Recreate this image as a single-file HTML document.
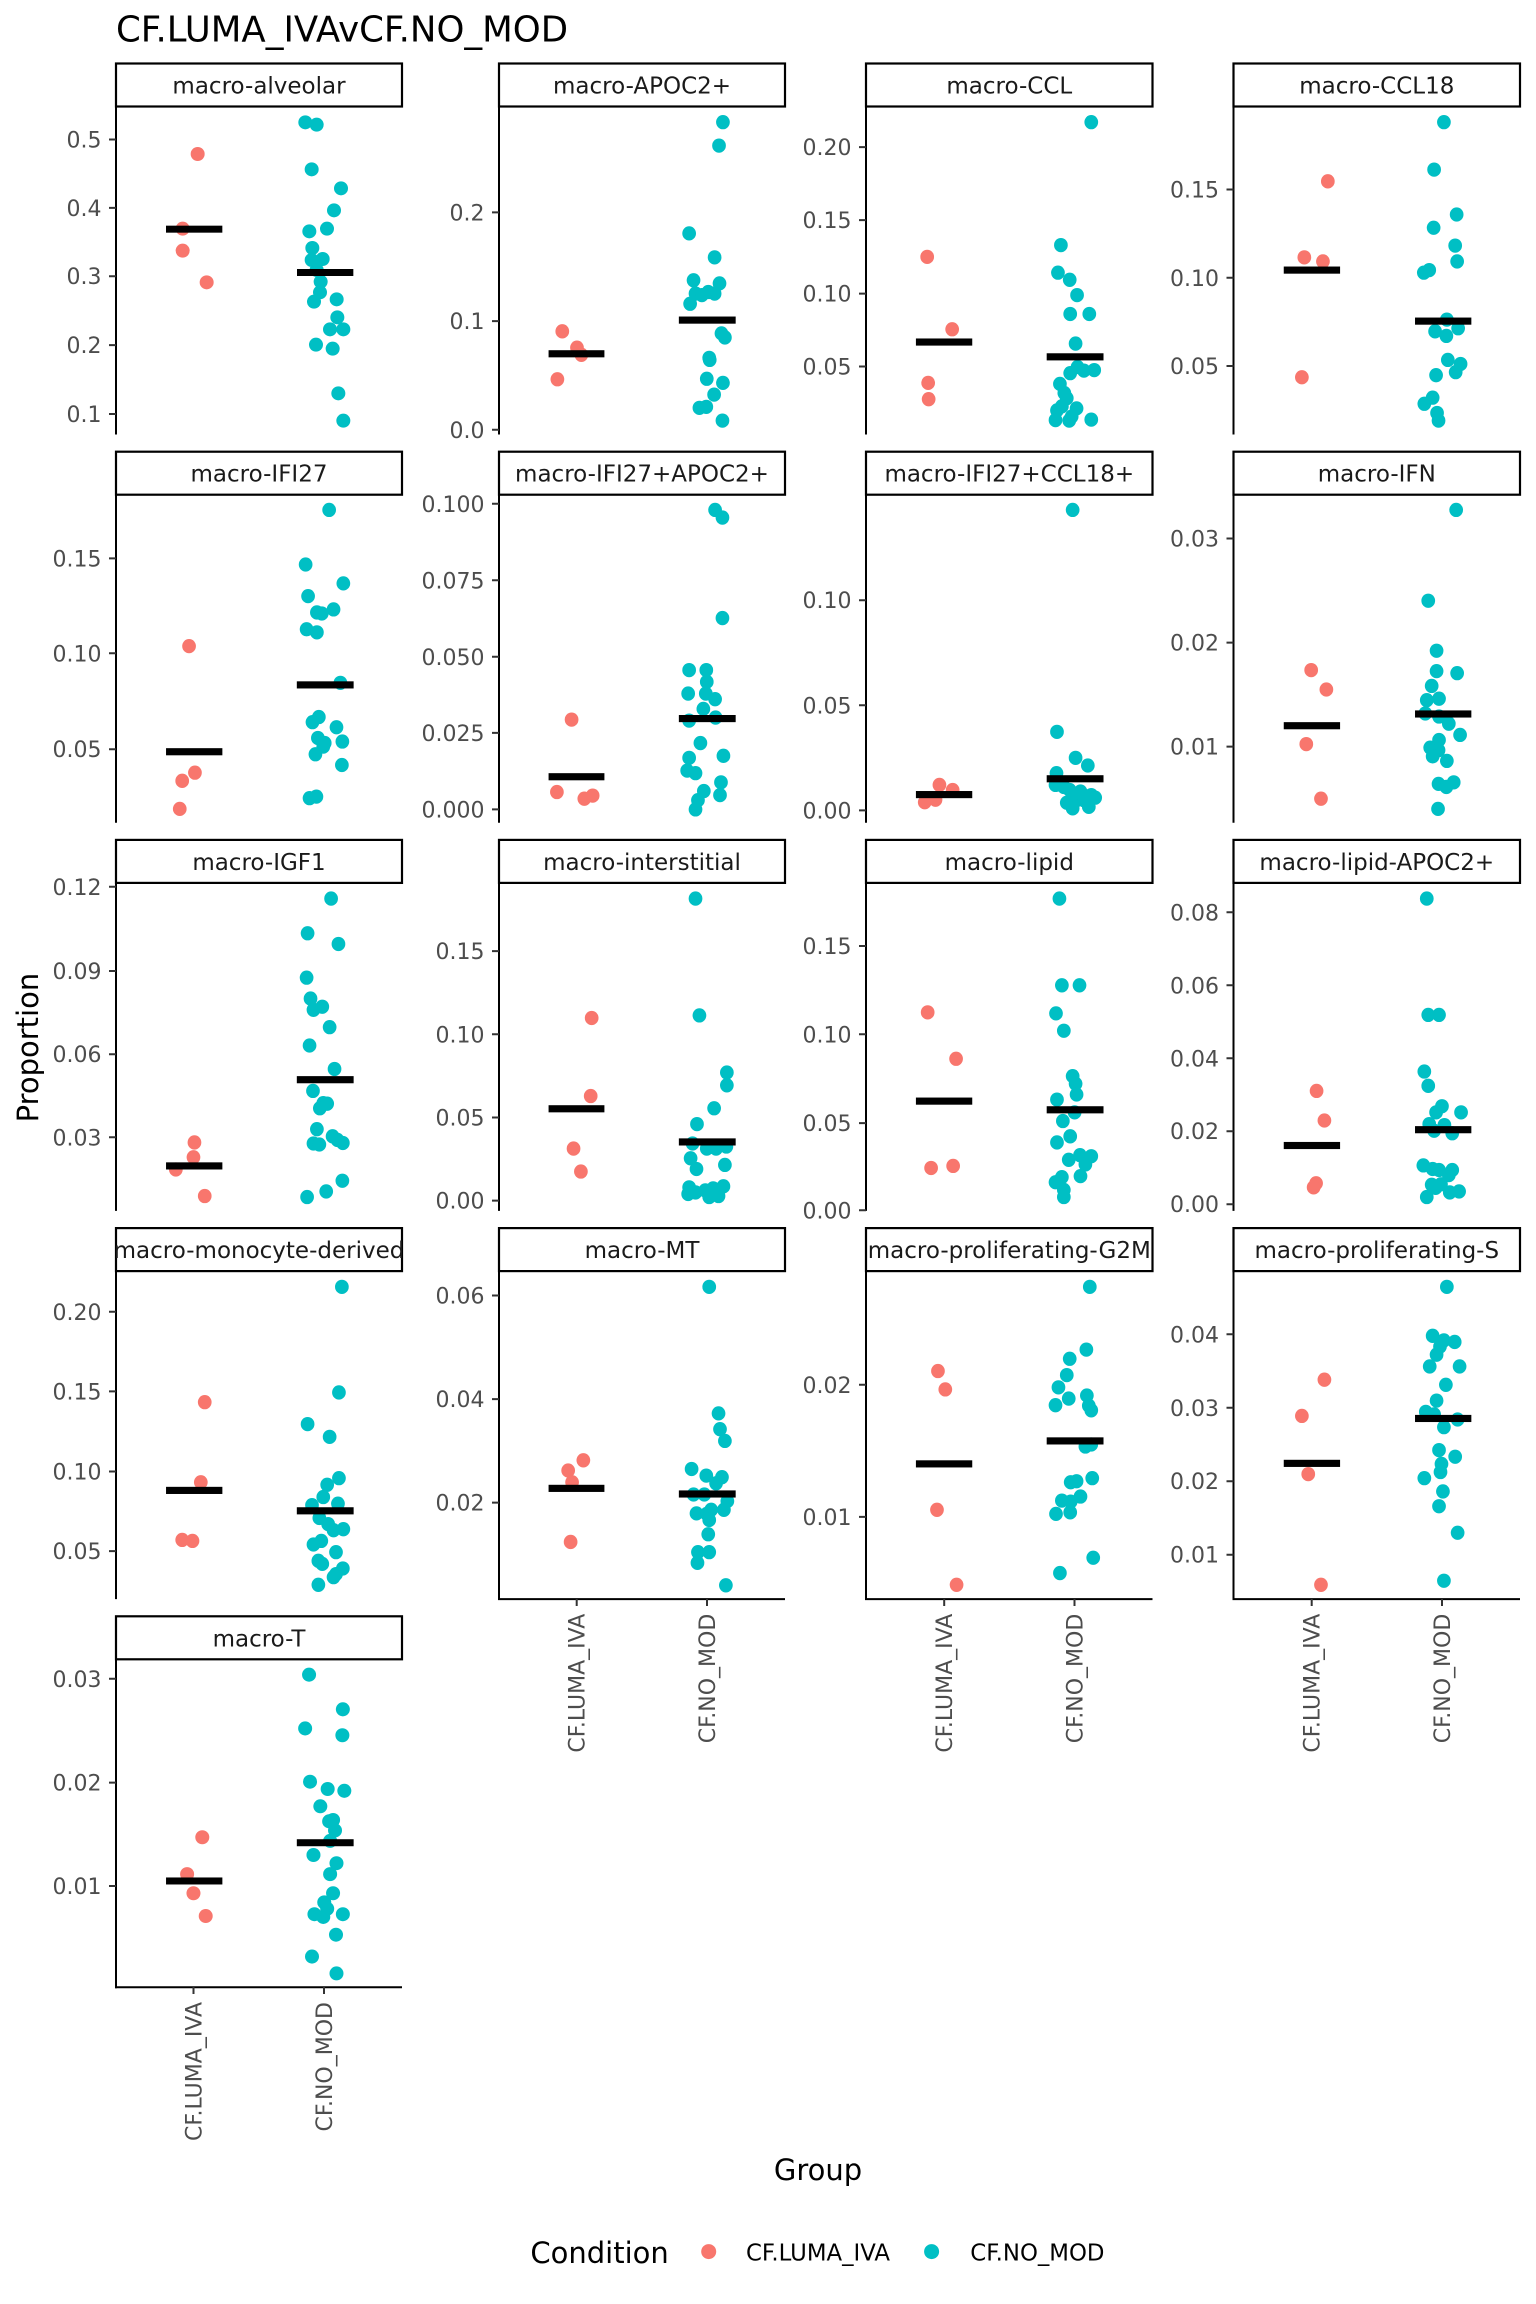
<!DOCTYPE html>
<html><head><meta charset="utf-8"><style>
html,body{margin:0;padding:0;background:#fff;}
svg{display:block;}
text{font-family:"DejaVu Sans","Liberation Sans",sans-serif;}
.tk{font-size:22px;fill:#4D4D4D;text-anchor:end;}
.st{font-size:23px;fill:#1A1A1A;text-anchor:middle;}
.xl{font-size:22px;fill:#4D4D4D;text-anchor:end;}
</style></head><body>
<svg width="1536" height="2304" viewBox="0 0 1536 2304" xmlns="http://www.w3.org/2000/svg">
<defs>
<clipPath id="c41"><rect x="116" y="1228" width="286" height="43"/></clipPath>
<clipPath id="c43"><rect x="866" y="1228" width="286.5" height="43"/></clipPath>
</defs>
<rect width="1536" height="2304" fill="#fff"/>
<text x="116" y="41.7" font-size="35.5" fill="#000">CF.LUMA_IVAvCF.NO_MOD</text>

<!-- strips -->
<g fill="#fff" stroke="#000" stroke-width="2.2">
<rect x="116" y="63.5" width="286" height="43"/><rect x="499" y="63.5" width="286" height="43"/><rect x="866" y="63.5" width="286.5" height="43"/><rect x="1233.5" y="63.5" width="286.5" height="43"/>
<rect x="116" y="451.7" width="286" height="43"/><rect x="499" y="451.7" width="286" height="43"/><rect x="866" y="451.7" width="286.5" height="43"/><rect x="1233.5" y="451.7" width="286.5" height="43"/>
<rect x="116" y="839.9" width="286" height="43"/><rect x="499" y="839.9" width="286" height="43"/><rect x="866" y="839.9" width="286.5" height="43"/><rect x="1233.5" y="839.9" width="286.5" height="43"/>
<rect x="116" y="1228.1" width="286" height="43"/><rect x="499" y="1228.1" width="286" height="43"/><rect x="866" y="1228.1" width="286.5" height="43"/><rect x="1233.5" y="1228.1" width="286.5" height="43"/>
<rect x="116" y="1616.3" width="286" height="43"/>
</g>
<text class="st" x="259" y="93.5">macro-alveolar</text>
<text class="st" x="642" y="93.5">macro-APOC2+</text>
<text class="st" x="1009.3" y="93.5">macro-CCL</text>
<text class="st" x="1376.8" y="93.5">macro-CCL18</text>
<text class="st" x="259" y="481.7">macro-IFI27</text>
<text class="st" x="642" y="481.7">macro-IFI27+APOC2+</text>
<text class="st" x="1009.3" y="481.7">macro-IFI27+CCL18+</text>
<text class="st" x="1376.8" y="481.7">macro-IFN</text>
<text class="st" x="259" y="869.9">macro-IGF1</text>
<text class="st" x="642" y="869.9">macro-interstitial</text>
<text class="st" x="1009.3" y="869.9">macro-lipid</text>
<text class="st" x="1376.8" y="869.9">macro-lipid-APOC2+</text>
<text class="st" x="259" y="1258.1" clip-path="url(#c41)">macro-monocyte-derived</text>
<text class="st" x="642" y="1258.1">macro-MT</text>
<text class="st" x="1009.3" y="1258.1" clip-path="url(#c43)">macro-proliferating-G2M</text>
<text class="st" x="1376.8" y="1258.1">macro-proliferating-S</text>
<text class="st" x="259" y="1646.3">macro-T</text>

<!-- axis lines -->
<g stroke="#000" stroke-width="2" fill="none">
<line x1="116" y1="106.5" x2="116" y2="434.5"/><line x1="499" y1="106.5" x2="499" y2="434.5"/><line x1="866" y1="106.5" x2="866" y2="434.5"/><line x1="1233.5" y1="106.5" x2="1233.5" y2="434.5"/>
<line x1="116" y1="494.7" x2="116" y2="822.7"/><line x1="499" y1="494.7" x2="499" y2="822.7"/><line x1="866" y1="494.7" x2="866" y2="822.7"/><line x1="1233.5" y1="494.7" x2="1233.5" y2="822.7"/>
<line x1="116" y1="882.9" x2="116" y2="1210.9"/><line x1="499" y1="882.9" x2="499" y2="1210.9"/><line x1="866" y1="882.9" x2="866" y2="1210.9"/><line x1="1233.5" y1="882.9" x2="1233.5" y2="1210.9"/>
<line x1="116" y1="1271.1" x2="116" y2="1599.1"/><line x1="499" y1="1271.1" x2="499" y2="1600"/><line x1="866" y1="1271.1" x2="866" y2="1600"/><line x1="1233.5" y1="1271.1" x2="1233.5" y2="1600"/>
<line x1="116" y1="1659.3" x2="116" y2="1988.2"/>
<line x1="498" y1="1599.1" x2="785" y2="1599.1"/><line x1="865" y1="1599.1" x2="1152.5" y2="1599.1"/><line x1="1232.5" y1="1599.1" x2="1520" y2="1599.1"/>
<line x1="115" y1="1987.3" x2="402" y2="1987.3"/>
</g>
<!-- ticks -->
<g stroke="#333" stroke-width="2">
<path d="M109 139.5h7M109 207.9h7M109 276.2h7M109 345.1h7M109 414h7"/>
<path d="M492 212.4h7M492 321.1h7M492 429.8h7"/>
<path d="M859 147.1h7M859 220.1h7M859 293.6h7M859 366.5h7"/>
<path d="M1226.5 189.5h7M1226.5 277.8h7M1226.5 366h7"/>
<path d="M109 558.4h7M109 653.3h7M109 749.2h7"/>
<path d="M492 503.8h7M492 580.3h7M492 656.8h7M492 732.9h7M492 809.4h7"/>
<path d="M859 600.2h7M859 705.3h7M859 810.4h7"/>
<path d="M1226.5 538.5h7M1226.5 642.6h7M1226.5 746.6h7"/>
<path d="M109 886.8h7M109 971h7M109 1054.2h7M109 1137.3h7"/>
<path d="M492 951.1h7M492 1034.3h7M492 1117.5h7M492 1200.6h7"/>
<path d="M859 946h7M859 1034.3h7M859 1123.1h7M859 1210.3h7"/>
<path d="M1226.5 912.3h7M1226.5 985.3h7M1226.5 1058.3h7M1226.5 1131.2h7M1226.5 1204.2h7"/>
<path d="M109 1311.8h7M109 1391.4h7M109 1471.5h7M109 1551.1h7"/>
<path d="M492 1295.5h7M492 1399.1h7M492 1502.6h7"/>
<path d="M859 1384.8h7M859 1516.9h7"/>
<path d="M1226.5 1334.3h7M1226.5 1407.8h7M1226.5 1481.2h7M1226.5 1554.7h7"/>
<path d="M109 1678.8h7M109 1782.6h7M109 1886h7"/>
<path d="M576.7 1599v7M707 1599v7M944.2 1599v7M1074.5 1599v7M1311.7 1599v7M1442 1599v7M193.5 1987v7M324 1987v7"/>
</g>
<!-- tick labels -->
<text class="tk" x="101.5" y="147.5">0.5</text><text class="tk" x="101.5" y="215.9">0.4</text><text class="tk" x="101.5" y="284.2">0.3</text><text class="tk" x="101.5" y="353.1">0.2</text><text class="tk" x="101.5" y="422">0.1</text>
<text class="tk" x="484.5" y="220.4">0.2</text><text class="tk" x="484.5" y="329.1">0.1</text><text class="tk" x="484.5" y="437.8">0.0</text>
<text class="tk" x="851.5" y="155.1">0.20</text><text class="tk" x="851.5" y="228.1">0.15</text><text class="tk" x="851.5" y="301.6">0.10</text><text class="tk" x="851.5" y="374.5">0.05</text>
<text class="tk" x="1219" y="197.5">0.15</text><text class="tk" x="1219" y="285.8">0.10</text><text class="tk" x="1219" y="374">0.05</text>
<text class="tk" x="101.5" y="566.4">0.15</text><text class="tk" x="101.5" y="661.3">0.10</text><text class="tk" x="101.5" y="757.2">0.05</text>
<text class="tk" x="484.5" y="511.8">0.100</text><text class="tk" x="484.5" y="588.3">0.075</text><text class="tk" x="484.5" y="664.8">0.050</text><text class="tk" x="484.5" y="740.9">0.025</text><text class="tk" x="484.5" y="817.4">0.000</text>
<text class="tk" x="851.5" y="608.2">0.10</text><text class="tk" x="851.5" y="713.3">0.05</text><text class="tk" x="851.5" y="818.4">0.00</text>
<text class="tk" x="1219" y="546.5">0.03</text><text class="tk" x="1219" y="650.6">0.02</text><text class="tk" x="1219" y="754.6">0.01</text>
<text class="tk" x="101.5" y="894.8">0.12</text><text class="tk" x="101.5" y="979">0.09</text><text class="tk" x="101.5" y="1062.2">0.06</text><text class="tk" x="101.5" y="1145.3">0.03</text>
<text class="tk" x="484.5" y="959.1">0.15</text><text class="tk" x="484.5" y="1042.3">0.10</text><text class="tk" x="484.5" y="1125.5">0.05</text><text class="tk" x="484.5" y="1208.6">0.00</text>
<text class="tk" x="851.5" y="954">0.15</text><text class="tk" x="851.5" y="1042.3">0.10</text><text class="tk" x="851.5" y="1131.1">0.05</text><text class="tk" x="851.5" y="1218.3">0.00</text>
<text class="tk" x="1219" y="920.3">0.08</text><text class="tk" x="1219" y="993.3">0.06</text><text class="tk" x="1219" y="1066.3">0.04</text><text class="tk" x="1219" y="1139.2">0.02</text><text class="tk" x="1219" y="1212.2">0.00</text>
<text class="tk" x="101.5" y="1319.8">0.20</text><text class="tk" x="101.5" y="1399.4">0.15</text><text class="tk" x="101.5" y="1479.5">0.10</text><text class="tk" x="101.5" y="1559.1">0.05</text>
<text class="tk" x="484.5" y="1303.5">0.06</text><text class="tk" x="484.5" y="1407.1">0.04</text><text class="tk" x="484.5" y="1510.6">0.02</text>
<text class="tk" x="851.5" y="1392.8">0.02</text><text class="tk" x="851.5" y="1524.9">0.01</text>
<text class="tk" x="1219" y="1342.3">0.04</text><text class="tk" x="1219" y="1415.8">0.03</text><text class="tk" x="1219" y="1489.2">0.02</text><text class="tk" x="1219" y="1562.7">0.01</text>
<text class="tk" x="101.5" y="1686.8">0.03</text><text class="tk" x="101.5" y="1790.6">0.02</text><text class="tk" x="101.5" y="1894">0.01</text>

<!-- x tick labels -->
<text class="xl" transform="translate(584.7,1613.7) rotate(-90)">CF.LUMA_IVA</text>
<text class="xl" transform="translate(715,1613.7) rotate(-90)">CF.NO_MOD</text>
<text class="xl" transform="translate(952.2,1613.7) rotate(-90)">CF.LUMA_IVA</text>
<text class="xl" transform="translate(1082.5,1613.7) rotate(-90)">CF.NO_MOD</text>
<text class="xl" transform="translate(1319.7,1613.7) rotate(-90)">CF.LUMA_IVA</text>
<text class="xl" transform="translate(1450,1613.7) rotate(-90)">CF.NO_MOD</text>
<text class="xl" transform="translate(201.5,2002) rotate(-90)">CF.LUMA_IVA</text>
<text class="xl" transform="translate(332,2002) rotate(-90)">CF.NO_MOD</text>

<!-- axis titles -->
<text x="818" y="2180" font-size="29" fill="#000" text-anchor="middle">Group</text>
<text transform="translate(38.2,1047.6) rotate(-90)" font-size="29" fill="#000" text-anchor="middle">Proportion</text>

<!-- legend -->
<text x="530.4" y="2263" font-size="29" fill="#000">Condition</text>
<circle cx="708.7" cy="2251.6" r="7.5" fill="#F8766D"/>
<text x="746" y="2260.3" font-size="22.8" fill="#000">CF.LUMA_IVA</text>
<circle cx="931.6" cy="2251.6" r="7.5" fill="#00BFC4"/>
<text x="970.3" y="2260.3" font-size="22.8" fill="#000">CF.NO_MOD</text>

<!-- PANEL alveolar (zoom1 coords) -->
<g transform="scale(0.333333)">
<g fill="#F8766D"><circle cx="593" cy="462" r="21"/><circle cx="548" cy="686" r="21"/><circle cx="548" cy="752" r="21"/><circle cx="620" cy="847" r="21"/></g>
<g fill="#00BFC4">
<circle cx="916" cy="367" r="21"/><circle cx="950" cy="374" r="21"/><circle cx="935" cy="508" r="21"/><circle cx="1023" cy="565" r="21"/><circle cx="1002" cy="631" r="21"/><circle cx="928" cy="694" r="21"/><circle cx="981" cy="686" r="21"/><circle cx="937" cy="744" r="21"/><circle cx="935" cy="780" r="21"/><circle cx="968" cy="777" r="21"/><circle cx="950" cy="810" r="21"/><circle cx="962" cy="845" r="21"/><circle cx="960" cy="877" r="21"/><circle cx="942" cy="905" r="21"/><circle cx="1010" cy="898" r="21"/><circle cx="1012" cy="952" r="21"/><circle cx="990" cy="988" r="21"/><circle cx="1030" cy="988" r="21"/><circle cx="948" cy="1034" r="21"/><circle cx="998" cy="1046" r="21"/><circle cx="1015" cy="1180" r="21"/><circle cx="1030" cy="1262" r="21"/>
</g>
<g fill="#000"><rect x="498" y="677" width="169" height="21"/><rect x="891" y="807" width="169" height="21"/></g>
</g>

<!-- GROUP A: col1-2 rows1-2 (zoom3 coords) -->
<g transform="translate(0,40) scale(0.489796,0.510204)">
<g fill="#F8766D">
<circle cx="1148" cy="571" r="14"/><circle cx="1178" cy="603" r="14"/><circle cx="1187" cy="617" r="14"/><circle cx="1138" cy="665" r="14"/>
<circle cx="386" cy="1188" r="14"/><circle cx="398" cy="1436" r="14"/><circle cx="372" cy="1452" r="14"/><circle cx="367" cy="1507" r="14"/>
<circle cx="1167" cy="1332" r="14"/><circle cx="1137" cy="1474" r="14"/><circle cx="1193" cy="1487" r="14"/><circle cx="1210" cy="1481" r="14"/>
</g>
<g fill="#00BFC4">
<circle cx="1476" cy="161" r="14"/><circle cx="1468" cy="207" r="14"/><circle cx="1407" cy="379" r="14"/><circle cx="1459" cy="426" r="14"/><circle cx="1416" cy="471" r="14"/><circle cx="1469" cy="477" r="14"/><circle cx="1420" cy="497" r="14"/><circle cx="1446" cy="494" r="14"/><circle cx="1459" cy="497" r="14"/><circle cx="1409" cy="517" r="14"/><circle cx="1433" cy="500" r="14"/><circle cx="1473" cy="575" r="14"/><circle cx="1480" cy="583" r="14"/><circle cx="1448" cy="623" r="14"/><circle cx="1449" cy="627" r="14"/><circle cx="1443" cy="664" r="14"/><circle cx="1476" cy="672" r="14"/><circle cx="1458" cy="695" r="14"/><circle cx="1428" cy="721" r="14"/><circle cx="1442" cy="719" r="14"/><circle cx="1475" cy="746" r="14"/>
<circle cx="672" cy="921" r="14"/><circle cx="624" cy="1028" r="14"/><circle cx="701" cy="1065" r="14"/><circle cx="629" cy="1090" r="14"/><circle cx="647" cy="1122" r="14"/><circle cx="657" cy="1124" r="14"/><circle cx="681" cy="1116" r="14"/><circle cx="626" cy="1155" r="14"/><circle cx="647" cy="1161" r="14"/><circle cx="695" cy="1260" r="14"/><circle cx="651" cy="1327" r="14"/><circle cx="638" cy="1337" r="14"/><circle cx="687" cy="1347" r="14"/><circle cx="649" cy="1368" r="14"/><circle cx="663" cy="1378" r="14"/><circle cx="699" cy="1375" r="14"/><circle cx="660" cy="1385" r="14"/><circle cx="644" cy="1400" r="14"/><circle cx="698" cy="1421" r="14"/><circle cx="632" cy="1486" r="14"/><circle cx="646" cy="1483" r="14"/>
<circle cx="1460" cy="921" r="14"/><circle cx="1475" cy="936" r="14"/><circle cx="1475" cy="1133" r="14"/><circle cx="1407" cy="1235" r="14"/><circle cx="1442" cy="1235" r="14"/><circle cx="1443" cy="1258" r="14"/><circle cx="1405" cy="1281" r="14"/><circle cx="1441" cy="1281" r="14"/><circle cx="1460" cy="1292" r="14"/><circle cx="1436" cy="1311" r="14"/><circle cx="1407" cy="1334" r="14"/><circle cx="1461" cy="1328" r="14"/><circle cx="1430" cy="1378" r="14"/><circle cx="1407" cy="1407" r="14"/><circle cx="1477" cy="1403" r="14"/><circle cx="1403" cy="1432" r="14"/><circle cx="1420" cy="1437" r="14"/><circle cx="1472" cy="1455" r="14"/><circle cx="1437" cy="1472" r="14"/><circle cx="1470" cy="1480" r="14"/><circle cx="1425" cy="1490" r="14"/><circle cx="1420" cy="1508" r="14"/>
</g>
<g fill="#000">
<rect x="1120" y="608" width="114" height="14"/><rect x="1386" y="542" width="116" height="14"/>
<rect x="339" y="1388" width="115" height="14"/><rect x="606" y="1257" width="116" height="14"/>
<rect x="1120" y="1437" width="114" height="14"/><rect x="1386" y="1323" width="116" height="14"/>
</g>
</g>

<!-- GROUP B: col3-4 rows1-2 (zoom4 coords) -->
<g transform="translate(768,40) scale(0.489796,0.510204)">
<g fill="#F8766D">
<circle cx="325" cy="425" r="14"/><circle cx="376" cy="567" r="14"/><circle cx="327" cy="672" r="14"/><circle cx="328" cy="704" r="14"/>
<circle cx="1143" cy="277" r="14"/><circle cx="1095" cy="426" r="14"/><circle cx="1133" cy="434" r="14"/><circle cx="1090" cy="661" r="14"/>
<circle cx="350" cy="1460" r="14"/><circle cx="377" cy="1470" r="14"/><circle cx="320" cy="1494" r="14"/><circle cx="342" cy="1489" r="14"/>
<circle cx="1109" cy="1235" r="14"/><circle cx="1140" cy="1273" r="14"/><circle cx="1099" cy="1380" r="14"/><circle cx="1129" cy="1487" r="14"/>
</g>
<g fill="#00BFC4">
<circle cx="660" cy="161" r="14"/><circle cx="598" cy="402" r="14"/><circle cx="592" cy="456" r="14"/><circle cx="616" cy="470" r="14"/><circle cx="631" cy="500" r="14"/><circle cx="617" cy="537" r="14"/><circle cx="656" cy="537" r="14"/><circle cx="628" cy="595" r="14"/><circle cx="617" cy="653" r="14"/><circle cx="632" cy="641" r="14"/><circle cx="645" cy="648" r="14"/><circle cx="666" cy="647" r="14"/><circle cx="596" cy="674" r="14"/><circle cx="605" cy="692" r="14"/><circle cx="610" cy="702" r="14"/><circle cx="600" cy="718" r="14"/><circle cx="630" cy="722" r="14"/><circle cx="590" cy="726" r="14"/><circle cx="620" cy="738" r="14"/><circle cx="587" cy="745" r="14"/><circle cx="615" cy="746" r="14"/><circle cx="660" cy="744" r="14"/>
<circle cx="1380" cy="161" r="14"/><circle cx="1360" cy="254" r="14"/><circle cx="1406" cy="342" r="14"/><circle cx="1359" cy="368" r="14"/><circle cx="1403" cy="403" r="14"/><circle cx="1407" cy="434" r="14"/><circle cx="1339" cy="456" r="14"/><circle cx="1350" cy="451" r="14"/><circle cx="1386" cy="548" r="14"/><circle cx="1362" cy="571" r="14"/><circle cx="1385" cy="580" r="14"/><circle cx="1409" cy="565" r="14"/><circle cx="1388" cy="627" r="14"/><circle cx="1414" cy="635" r="14"/><circle cx="1364" cy="657" r="14"/><circle cx="1404" cy="651" r="14"/><circle cx="1357" cy="701" r="14"/><circle cx="1340" cy="713" r="14"/><circle cx="1366" cy="731" r="14"/><circle cx="1369" cy="746" r="14"/>
<circle cx="622" cy="921" r="14"/><circle cx="590" cy="1356" r="14"/><circle cx="628" cy="1407" r="14"/><circle cx="653" cy="1422" r="14"/><circle cx="589" cy="1437" r="14"/><circle cx="587" cy="1460" r="14"/><circle cx="604" cy="1464" r="14"/><circle cx="616" cy="1470" r="14"/><circle cx="638" cy="1473" r="14"/><circle cx="660" cy="1480" r="14"/><circle cx="668" cy="1485" r="14"/><circle cx="610" cy="1495" r="14"/><circle cx="630" cy="1490" r="14"/><circle cx="622" cy="1506" r="14"/><circle cx="655" cy="1503" r="14"/><circle cx="645" cy="1490" r="14"/>
<circle cx="1405" cy="921" r="14"/><circle cx="1348" cy="1099" r="14"/><circle cx="1365" cy="1197" r="14"/><circle cx="1365" cy="1237" r="14"/><circle cx="1407" cy="1241" r="14"/><circle cx="1355" cy="1266" r="14"/><circle cx="1345" cy="1294" r="14"/><circle cx="1370" cy="1291" r="14"/><circle cx="1342" cy="1320" r="14"/><circle cx="1370" cy="1326" r="14"/><circle cx="1390" cy="1340" r="14"/><circle cx="1413" cy="1362" r="14"/><circle cx="1370" cy="1372" r="14"/><circle cx="1352" cy="1387" r="14"/><circle cx="1369" cy="1392" r="14"/><circle cx="1357" cy="1404" r="14"/><circle cx="1386" cy="1413" r="14"/><circle cx="1369" cy="1458" r="14"/><circle cx="1385" cy="1464" r="14"/><circle cx="1400" cy="1455" r="14"/><circle cx="1368" cy="1507" r="14"/>
</g>
<g fill="#000">
<rect x="302" y="585" width="115" height="14"/><rect x="569" y="614" width="116" height="14"/>
<rect x="1053" y="444" width="115" height="14"/><rect x="1321" y="544" width="115" height="14"/>
<rect x="302" y="1472" width="115" height="14"/><rect x="569" y="1441" width="116" height="14"/>
<rect x="1053" y="1337" width="115" height="14"/><rect x="1321" y="1314" width="115" height="14"/>
</g>
</g>

<!-- GROUP C: col1-2 rows3-4 (zoom5 coords) -->
<g transform="translate(0,820) scale(0.489796,0.510204)">
<g fill="#F8766D">
<circle cx="397" cy="632" r="14"/><circle cx="395" cy="661" r="14"/><circle cx="359" cy="685" r="14"/><circle cx="418" cy="737" r="14"/>
<circle cx="1208" cy="388" r="14"/><circle cx="1206" cy="541" r="14"/><circle cx="1171" cy="644" r="14"/><circle cx="1186" cy="689" r="14"/>
<circle cx="418" cy="1141" r="14"/><circle cx="410" cy="1298" r="14"/><circle cx="372" cy="1411" r="14"/><circle cx="393" cy="1413" r="14"/>
<circle cx="1191" cy="1255" r="14"/><circle cx="1160" cy="1275" r="14"/><circle cx="1168" cy="1298" r="14"/><circle cx="1165" cy="1415" r="14"/>
</g>
<g fill="#00BFC4">
<circle cx="676" cy="154" r="14"/><circle cx="628" cy="222" r="14"/><circle cx="691" cy="243" r="14"/><circle cx="626" cy="309" r="14"/><circle cx="634" cy="350" r="14"/><circle cx="658" cy="366" r="14"/><circle cx="640" cy="372" r="14"/><circle cx="673" cy="406" r="14"/><circle cx="632" cy="442" r="14"/><circle cx="683" cy="488" r="14"/><circle cx="639" cy="531" r="14"/><circle cx="660" cy="555" r="14"/><circle cx="653" cy="565" r="14"/><circle cx="668" cy="556" r="14"/><circle cx="647" cy="606" r="14"/><circle cx="679" cy="620" r="14"/><circle cx="640" cy="634" r="14"/><circle cx="652" cy="636" r="14"/><circle cx="700" cy="633" r="14"/><circle cx="689" cy="627" r="14"/><circle cx="699" cy="707" r="14"/><circle cx="666" cy="728" r="14"/><circle cx="627" cy="739" r="14"/>
<circle cx="1420" cy="154" r="14"/><circle cx="1428" cy="383" r="14"/><circle cx="1484" cy="495" r="14"/><circle cx="1484" cy="520" r="14"/><circle cx="1458" cy="565" r="14"/><circle cx="1423" cy="596" r="14"/><circle cx="1414" cy="634" r="14"/><circle cx="1443" cy="644" r="14"/><circle cx="1462" cy="644" r="14"/><circle cx="1483" cy="640" r="14"/><circle cx="1410" cy="663" r="14"/><circle cx="1480" cy="676" r="14"/><circle cx="1422" cy="684" r="14"/><circle cx="1407" cy="720" r="14"/><circle cx="1420" cy="730" r="14"/><circle cx="1440" cy="726" r="14"/><circle cx="1456" cy="722" r="14"/><circle cx="1477" cy="718" r="14"/><circle cx="1405" cy="733" r="14"/><circle cx="1448" cy="739" r="14"/><circle cx="1467" cy="737" r="14"/>
<circle cx="698" cy="915" r="14"/><circle cx="692" cy="1122" r="14"/><circle cx="628" cy="1184" r="14"/><circle cx="673" cy="1209" r="14"/><circle cx="692" cy="1290" r="14"/><circle cx="668" cy="1303" r="14"/><circle cx="660" cy="1327" r="14"/><circle cx="637" cy="1343" r="14"/><circle cx="690" cy="1340" r="14"/><circle cx="652" cy="1368" r="14"/><circle cx="670" cy="1380" r="14"/><circle cx="681" cy="1392" r="14"/><circle cx="701" cy="1390" r="14"/><circle cx="640" cy="1420" r="14"/><circle cx="656" cy="1413" r="14"/><circle cx="686" cy="1435" r="14"/><circle cx="650" cy="1452" r="14"/><circle cx="658" cy="1458" r="14"/><circle cx="700" cy="1467" r="14"/><circle cx="686" cy="1478" r="14"/><circle cx="681" cy="1484" r="14"/><circle cx="650" cy="1499" r="14"/>
<circle cx="1448" cy="915" r="14"/><circle cx="1467" cy="1163" r="14"/><circle cx="1470" cy="1194" r="14"/><circle cx="1480" cy="1217" r="14"/><circle cx="1412" cy="1272" r="14"/><circle cx="1442" cy="1285" r="14"/><circle cx="1474" cy="1288" r="14"/><circle cx="1462" cy="1300" r="14"/><circle cx="1416" cy="1322" r="14"/><circle cx="1438" cy="1322" r="14"/><circle cx="1485" cy="1335" r="14"/><circle cx="1422" cy="1359" r="14"/><circle cx="1443" cy="1360" r="14"/><circle cx="1478" cy="1352" r="14"/><circle cx="1452" cy="1352" r="14"/><circle cx="1448" cy="1372" r="14"/><circle cx="1446" cy="1400" r="14"/><circle cx="1425" cy="1435" r="14"/><circle cx="1448" cy="1435" r="14"/><circle cx="1424" cy="1456" r="14"/><circle cx="1482" cy="1500" r="14"/>
</g>
<g fill="#000">
<rect x="339" y="671" width="115" height="14"/><rect x="606" y="502" width="116" height="14"/>
<rect x="1120" y="559" width="114" height="14"/><rect x="1386" y="624" width="116" height="14"/>
<rect x="339" y="1307" width="115" height="14"/><rect x="606" y="1347" width="116" height="14"/>
<rect x="1120" y="1303" width="114" height="14"/><rect x="1386" y="1314" width="116" height="14"/>
</g>
</g>

<!-- GROUP D: col3-4 rows3-4 (zoom6 coords) -->
<g transform="translate(768,820) scale(0.489796,0.510204)">
<g fill="#F8766D">
<circle cx="326" cy="377" r="14"/><circle cx="384" cy="468" r="14"/><circle cx="333" cy="682" r="14"/><circle cx="378" cy="678" r="14"/>
<circle cx="1120" cy="531" r="14"/><circle cx="1136" cy="589" r="14"/><circle cx="1119" cy="712" r="14"/><circle cx="1114" cy="720" r="14"/>
<circle cx="347" cy="1080" r="14"/><circle cx="362" cy="1116" r="14"/><circle cx="345" cy="1352" r="14"/><circle cx="385" cy="1499" r="14"/>
<circle cx="1136" cy="1097" r="14"/><circle cx="1090" cy="1168" r="14"/><circle cx="1103" cy="1282" r="14"/><circle cx="1129" cy="1499" r="14"/>
</g>
<g fill="#00BFC4">
<circle cx="595" cy="154" r="14"/><circle cx="600" cy="324" r="14"/><circle cx="636" cy="324" r="14"/><circle cx="588" cy="379" r="14"/><circle cx="604" cy="413" r="14"/><circle cx="622" cy="502" r="14"/><circle cx="628" cy="517" r="14"/><circle cx="590" cy="548" r="14"/><circle cx="630" cy="538" r="14"/><circle cx="626" cy="573" r="14"/><circle cx="602" cy="590" r="14"/><circle cx="590" cy="632" r="14"/><circle cx="617" cy="620" r="14"/><circle cx="614" cy="666" r="14"/><circle cx="637" cy="657" r="14"/><circle cx="660" cy="659" r="14"/><circle cx="648" cy="675" r="14"/><circle cx="638" cy="698" r="14"/><circle cx="600" cy="700" r="14"/><circle cx="587" cy="710" r="14"/><circle cx="604" cy="725" r="14"/><circle cx="604" cy="739" r="14"/>
<circle cx="1345" cy="154" r="14"/><circle cx="1348" cy="382" r="14"/><circle cx="1370" cy="382" r="14"/><circle cx="1340" cy="493" r="14"/><circle cx="1348" cy="521" r="14"/><circle cx="1376" cy="561" r="14"/><circle cx="1364" cy="573" r="14"/><circle cx="1415" cy="573" r="14"/><circle cx="1350" cy="596" r="14"/><circle cx="1381" cy="598" r="14"/><circle cx="1360" cy="609" r="14"/><circle cx="1397" cy="614" r="14"/><circle cx="1338" cy="677" r="14"/><circle cx="1357" cy="684" r="14"/><circle cx="1370" cy="686" r="14"/><circle cx="1397" cy="686" r="14"/><circle cx="1390" cy="696" r="14"/><circle cx="1355" cy="715" r="14"/><circle cx="1374" cy="714" r="14"/><circle cx="1363" cy="721" r="14"/><circle cx="1392" cy="730" r="14"/><circle cx="1411" cy="728" r="14"/><circle cx="1345" cy="739" r="14"/>
<circle cx="657" cy="915" r="14"/><circle cx="650" cy="1038" r="14"/><circle cx="616" cy="1056" r="14"/><circle cx="610" cy="1088" r="14"/><circle cx="593" cy="1112" r="14"/><circle cx="614" cy="1134" r="14"/><circle cx="651" cy="1128" r="14"/><circle cx="587" cy="1147" r="14"/><circle cx="655" cy="1148" r="14"/><circle cx="660" cy="1157" r="14"/><circle cx="648" cy="1228" r="14"/><circle cx="660" cy="1224" r="14"/><circle cx="662" cy="1290" r="14"/><circle cx="618" cy="1298" r="14"/><circle cx="630" cy="1296" r="14"/><circle cx="638" cy="1326" r="14"/><circle cx="600" cy="1334" r="14"/><circle cx="618" cy="1336" r="14"/><circle cx="588" cy="1360" r="14"/><circle cx="617" cy="1357" r="14"/><circle cx="664" cy="1446" r="14"/><circle cx="596" cy="1476" r="14"/>
<circle cx="1386" cy="915" r="14"/><circle cx="1357" cy="1011" r="14"/><circle cx="1380" cy="1020" r="14"/><circle cx="1402" cy="1023" r="14"/><circle cx="1372" cy="1032" r="14"/><circle cx="1365" cy="1048" r="14"/><circle cx="1351" cy="1071" r="14"/><circle cx="1412" cy="1071" r="14"/><circle cx="1384" cy="1107" r="14"/><circle cx="1365" cy="1138" r="14"/><circle cx="1343" cy="1160" r="14"/><circle cx="1360" cy="1165" r="14"/><circle cx="1408" cy="1175" r="14"/><circle cx="1380" cy="1190" r="14"/><circle cx="1370" cy="1235" r="14"/><circle cx="1403" cy="1248" r="14"/><circle cx="1375" cy="1262" r="14"/><circle cx="1340" cy="1290" r="14"/><circle cx="1373" cy="1278" r="14"/><circle cx="1378" cy="1316" r="14"/><circle cx="1370" cy="1345" r="14"/><circle cx="1408" cy="1397" r="14"/><circle cx="1380" cy="1491" r="14"/>
</g>
<g fill="#000">
<rect x="302" y="544" width="115" height="14"/><rect x="569" y="561" width="116" height="14"/>
<rect x="1053" y="631" width="115" height="14"/><rect x="1321" y="600" width="115" height="14"/>
<rect x="302" y="1255" width="115" height="14"/><rect x="569" y="1210" width="116" height="14"/>
<rect x="1053" y="1254" width="115" height="14"/><rect x="1321" y="1166" width="115" height="14"/>
</g>
</g>

<!-- GROUP E: macro-T (zoom7 coords) -->
<g transform="translate(0,1590) scale(0.489796,0.455357)">
<g fill="#F8766D">
<ellipse cx="413" cy="543" rx="14.3" ry="15.4"/><ellipse cx="382" cy="624" rx="14.3" ry="15.4"/><ellipse cx="395" cy="666" rx="14.3" ry="15.4"/><ellipse cx="420" cy="716" rx="14.3" ry="15.4"/>
</g>
<g fill="#00BFC4">
<ellipse cx="631" cy="186" rx="14.3" ry="15.4"/><ellipse cx="700" cy="262" rx="14.3" ry="15.4"/><ellipse cx="623" cy="304" rx="14.3" ry="15.4"/><ellipse cx="699" cy="319" rx="14.3" ry="15.4"/><ellipse cx="633" cy="421" rx="14.3" ry="15.4"/><ellipse cx="669" cy="437" rx="14.3" ry="15.4"/><ellipse cx="703" cy="441" rx="14.3" ry="15.4"/><ellipse cx="654" cy="475" rx="14.3" ry="15.4"/><ellipse cx="672" cy="508" rx="14.3" ry="15.4"/><ellipse cx="680" cy="505" rx="14.3" ry="15.4"/><ellipse cx="684" cy="528" rx="14.3" ry="15.4"/><ellipse cx="674" cy="551" rx="14.3" ry="15.4"/><ellipse cx="640" cy="582" rx="14.3" ry="15.4"/><ellipse cx="687" cy="600" rx="14.3" ry="15.4"/><ellipse cx="674" cy="624" rx="14.3" ry="15.4"/><ellipse cx="680" cy="666" rx="14.3" ry="15.4"/><ellipse cx="662" cy="686" rx="14.3" ry="15.4"/><ellipse cx="668" cy="700" rx="14.3" ry="15.4"/><ellipse cx="642" cy="712" rx="14.3" ry="15.4"/><ellipse cx="660" cy="718" rx="14.3" ry="15.4"/><ellipse cx="700" cy="712" rx="14.3" ry="15.4"/><ellipse cx="686" cy="757" rx="14.3" ry="15.4"/><ellipse cx="637" cy="805" rx="14.3" ry="15.4"/><ellipse cx="687" cy="842" rx="14.3" ry="15.4"/>
</g>
<g fill="#000">
<rect x="339" y="631.3" width="115" height="15.4"/><rect x="606" y="547.3" width="116" height="15.4"/>
</g>
</g>
</svg>
</body></html>
